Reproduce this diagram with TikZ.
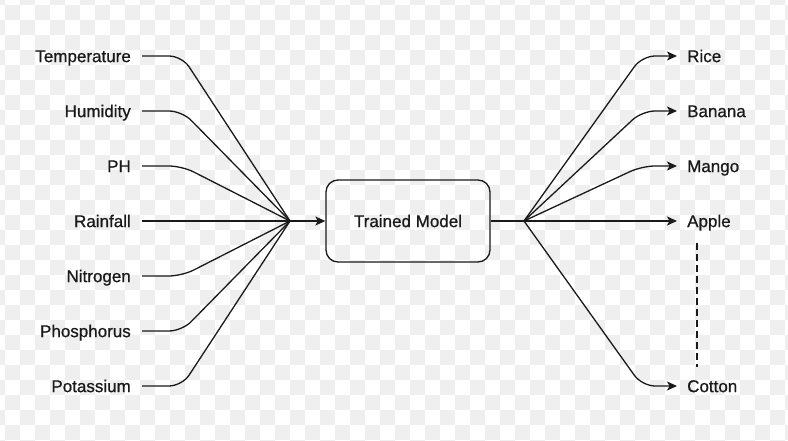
\documentclass[tikz,border=0pt]{standalone}
\usepackage{fontspec}
\setmainfont{Liberation Sans}
\newfontfamily\labfont[BoldFont=Liberation Sans, BoldFeatures={FakeBold=0.8}]{Liberation Sans}
\usetikzlibrary{arrows.meta}
\definecolor{chk}{HTML}{EFEFEF}
\definecolor{ink}{HTML}{1A1A1A}
\tikzset{
  txt/.style={font=\labfont\bfseries\fontsize{17}{19}\selectfont, text=ink, text height=12.2pt, text depth=0pt},
  lab/.style={txt, inner xsep=11pt, inner ysep=2pt},
  conn/.style={draw=ink, line width=1.3pt, rounded corners=13pt},
  arr/.style={conn, -{Stealth[length=10pt,width=9pt,inset=2.5pt]}},
  box/.style={txt, draw=ink, line width=1.3pt, rounded corners=12pt, minimum width=164pt, minimum height=82pt},
  dsh/.style={draw=ink, line width=2.4pt, dash pattern=on 7pt off 4pt}
}
\begin{document}
\begin{tikzpicture}[x=1pt,y=-1pt]
\useasboundingbox (0,0) rectangle (788,441);
\fill[white] (0,0) rectangle (788,441);
\foreach \i in {0,...,53}{
  \foreach \j in {0,...,30}{
    \pgfmathtruncatemacro\k{mod(\i+\j,2)}
    \ifnum\k=0 \fill[chk] (-10+15*\i,-10+15*\j) rectangle +(15,15);\fi
  }
}
% left labels
\node[lab, anchor=east] (t1) at (142,56) {Temperature};
\node[lab, anchor=east] (t2) at (142,111) {Humidity};
\node[lab, anchor=east] (t3) at (142,166) {PH};
\node[lab, anchor=east] (t4) at (142,221) {Rainfall};
\node[lab, anchor=east] (t5) at (142,276) {Nitrogen};
\node[lab, anchor=east] (t6) at (142,331) {Phosphorus};
\node[lab, anchor=east] (t7) at (142,386) {Potassium};
% right labels
\node[lab, anchor=west, inner xsep=10pt] (r1) at (677,56) {Rice};
\node[lab, anchor=west, inner xsep=10pt] (r2) at (677,111) {Banana};
\node[lab, anchor=west, inner xsep=10pt] (r3) at (677,166) {Mango};
\node[lab, anchor=west, inner xsep=10pt] (r4) at (677,221) {Apple};
\node[lab, anchor=west, inner xsep=10pt] (r5) at (677,386) {Cotton};
% model
\node[box] (m) at (408,221) {Trained Model};
% junctions and bends
\coordinate (jl) at (290,221);
\coordinate (jr) at (524,221);
\coordinate (bl) at (182,0);
\coordinate (br) at (642,0);
\foreach \n in {t1,t2,t3,t4,t5,t6,t7}{
  \draw[conn] (\n.east) -- (\n.east -| bl) -- (jl);
}
\draw[arr] (jl) -- (m.west);
\draw[conn] (m.east) -- (jr);
\foreach \n in {r1,r2,r3,r5}{
  \draw[arr] (jr) -- (\n.west -| br) -- (\n.west);
}
\draw[arr] (jr) -- (r4.west);
% dashed link
\coordinate (d1) at (697,243);
\coordinate (d2) at (697,367);
\draw[dsh] (d1) -- (d2);
\end{tikzpicture}
\end{document}
